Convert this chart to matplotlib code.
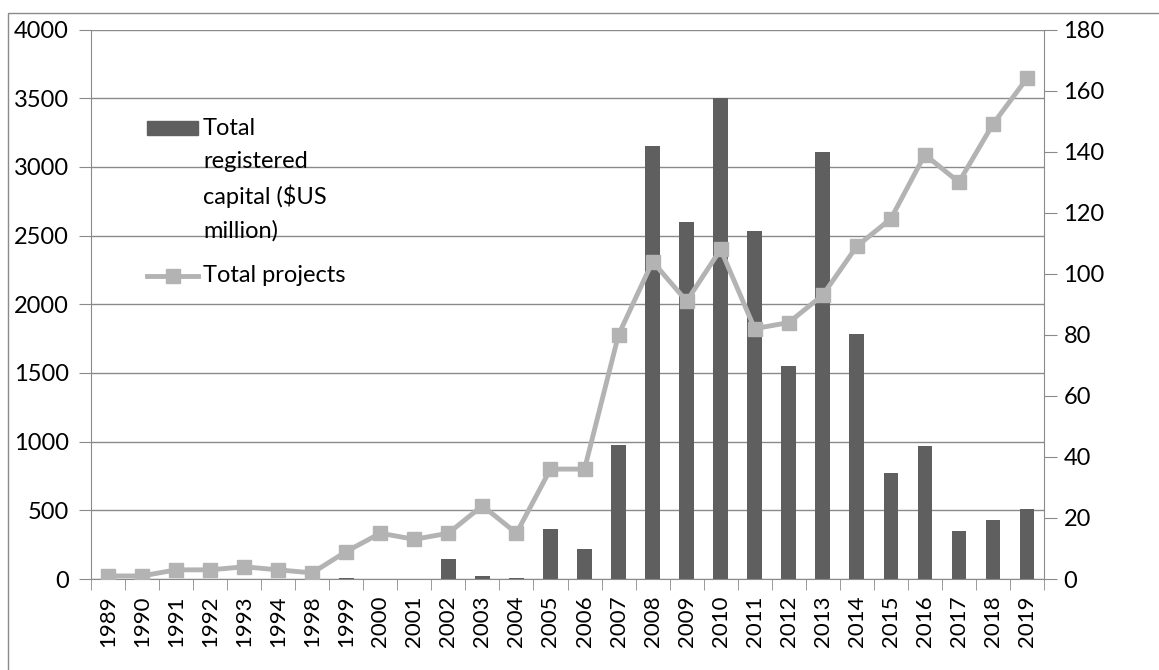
import matplotlib
matplotlib.use("Agg")
import matplotlib.pyplot as plt
import matplotlib.patches as mpatches
from matplotlib.lines import Line2D
import numpy as np

plt.rcParams["font.family"] = ["Lato", "DejaVu Sans"]

years = ["1989", "1990", "1991", "1992", "1993", "1994", "1998", "1999",
         "2000", "2001", "2002", "2003", "2004", "2005", "2006", "2007",
         "2008", "2009", "2010", "2011", "2012", "2013", "2014", "2015",
         "2016", "2017", "2018", "2019"]
capital = [0, 0, 1, 2, 1, 1, 1, 5, 3, 2, 145, 25, 5, 367, 219, 976,
           3150, 2599, 3505, 2531, 1547, 3109, 1787, 774, 971, 350, 432, 508]
projects = [1, 1, 3, 3, 4, 3, 2, 9, 15, 13, 15, 24, 15, 36, 36, 80,
            104, 91, 108, 82, 84, 93, 109, 118, 139, 130, 149, 164]

BAR = "#5f5f5f"
LINE = "#b3b3b3"
GRID = "#8a8a8a"

W, H = 1159, 670


def px(x, y):
    """Pixel position (y measured from top) -> figure fraction."""
    return x / W, 1 - y / H


fig = plt.figure(figsize=(W / 100, H / 100), dpi=100)
fig.patch.set_facecolor("white")

# plot area in pixels: x 91..1044, y 29.5..579
ax = fig.add_axes([91 / W, 1 - 579 / H, (1044 - 91) / W, (579 - 29.5) / H])
ax2 = ax.twinx()

x = np.arange(len(years))
ax.bar(x, capital, width=0.43, color=BAR, zorder=2)
ax2.plot(x, projects, color=LINE, lw=3.5, marker="s", markersize=10.5,
         zorder=3)

ax.set_xlim(-0.5, len(years) - 0.5)
ax.set_ylim(0, 4000)
ax.set_yticks(np.arange(0, 4001, 500))
ax2.set_ylim(0, 180)
ax2.set_yticks(np.arange(0, 181, 20))

ax.yaxis.grid(True, color=GRID, lw=1)
ax.set_axisbelow(True)

ax.set_xticks(x)
ax.set_xticklabels(years, rotation=90)
ax.set_xticks(np.arange(-0.5, len(years), 1), minor=True)
ax.tick_params(axis="x", which="major", length=0, pad=12, labelsize=16)
ax.tick_params(axis="x", which="minor", length=8, color=GRID)
ax.tick_params(axis="y", length=9, color=GRID, labelsize=17, pad=7)
ax2.tick_params(axis="y", length=9, color=GRID, labelsize=17, pad=5)

for a in (ax, ax2):
    for s in a.spines.values():
        s.set_visible(False)
ax.spines["left"].set_visible(True)
ax.spines["left"].set_color(GRID)
ax.spines["bottom"].set_visible(True)
ax.spines["bottom"].set_color(GRID)
ax2.spines["right"].set_visible(True)
ax2.spines["right"].set_color(GRID)

# legend, laid out by hand so the bar swatch sits beside the first text line
x0, y0 = px(147, 135)
x1, y1 = px(198, 121)
fig.add_artist(mpatches.Rectangle((x0, y0), x1 - x0, y1 - y0,
                                  transform=fig.transFigure, color=BAR))
tx, ty = px(203, 128)
fig.text(tx, ty + 0.015, "Total\nregistered\ncapital ($US\nmillion)",
         fontsize=17, va="top", ha="left", linespacing=1.68)
lx0, ly = px(147, 276)
lx1, _ = px(198, 276)
fig.add_artist(Line2D([lx0, lx1], [ly, ly], color=LINE, lw=3.5,
                      transform=fig.transFigure))
mx, _ = px(172.5, 276)
fig.add_artist(Line2D([mx], [ly], color=LINE, marker="s", markersize=10.5,
                      transform=fig.transFigure))
tx2, ty2 = px(203, 276)
fig.text(tx2, ty2, "Total projects", fontsize=17, va="center", ha="left")

# outer frame (top and left edges visible)
fig.add_artist(mpatches.Rectangle((8 / W, -0.1), 2, 1 - 12.5 / H + 0.1,
                                  transform=fig.transFigure, fill=False,
                                  edgecolor=GRID, lw=1))

fig.savefig("out.png", dpi=100)
